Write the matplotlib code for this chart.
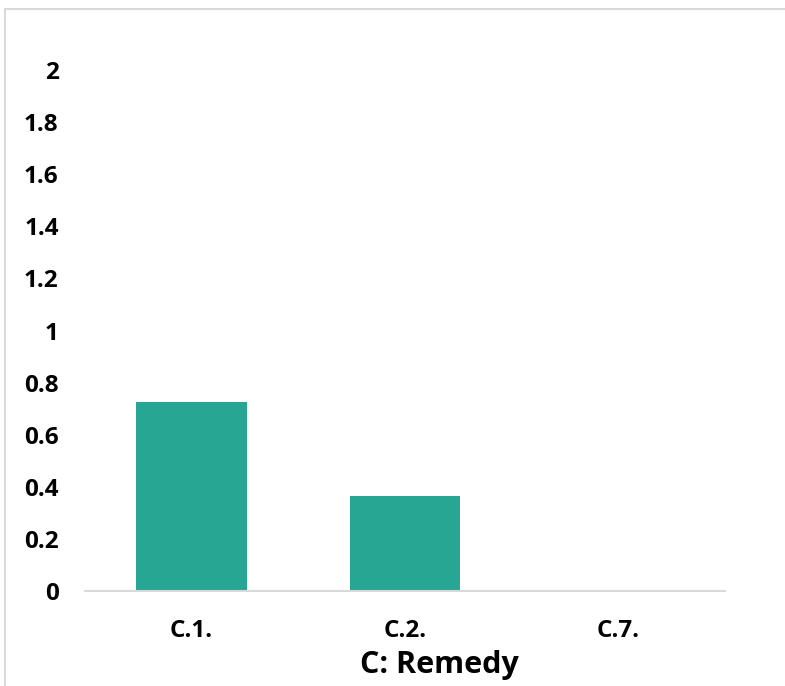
import matplotlib.pyplot as plt
from matplotlib.lines import Line2D

plt.rcParams['font.family'] = ['Open Sans', 'DejaVu Sans']
plt.rcParams['font.weight'] = 'bold'

# 数据
categories = ['C.1.', 'C.2.', 'C.7.']
values = [0.727, 0.364, 0.0]
y_ticks = [0, 0.2, 0.4, 0.6, 0.8, 1, 1.2, 1.4, 1.6, 1.8, 2]
y_tick_labels = ['0', '0.2', '0.4', '0.6', '0.8', '1', '1.2', '1.4', '1.6', '1.8', '2']

fig = plt.figure(figsize=(7.85, 6.86), dpi=100)
ax = fig.add_axes([85 / 785, 1 - 591 / 686, 640 / 785, 521 / 686])

x = range(len(categories))
ax.bar(x, values, width=0.52, color='#27a793')

ax.set_xlim(-0.5, len(categories) - 0.5)
ax.set_ylim(0, 2)
ax.set_xticks(list(x))
ax.set_xticklabels(categories, fontsize=17.5, fontweight='bold')
ax.set_yticks(y_ticks)
ax.set_yticklabels(y_tick_labels, fontsize=17.5, fontweight='bold')
ax.tick_params(axis='both', length=0)
ax.tick_params(axis='x', pad=20)
ax.tick_params(axis='y', pad=19)

for side in ['top', 'right', 'left']:
    ax.spines[side].set_visible(False)
ax.spines['bottom'].set_color('#d9d9d9')
ax.spines['bottom'].set_linewidth(1.5)

ax.set_xlabel('C: Remedy', fontsize=22, fontweight='bold')
ax.xaxis.set_label_coords((439 - 85) / 640, -59 / 521)

# 外框线
fig.add_artist(Line2D([5 / 785, 1], [1 - 9 / 686, 1 - 9 / 686],
                      transform=fig.transFigure, color='#d9d9d9', lw=1.5))
fig.add_artist(Line2D([5 / 785, 5 / 785], [0, 1 - 9 / 686],
                      transform=fig.transFigure, color='#d9d9d9', lw=1.5))

plt.savefig('out.png', dpi=100)
